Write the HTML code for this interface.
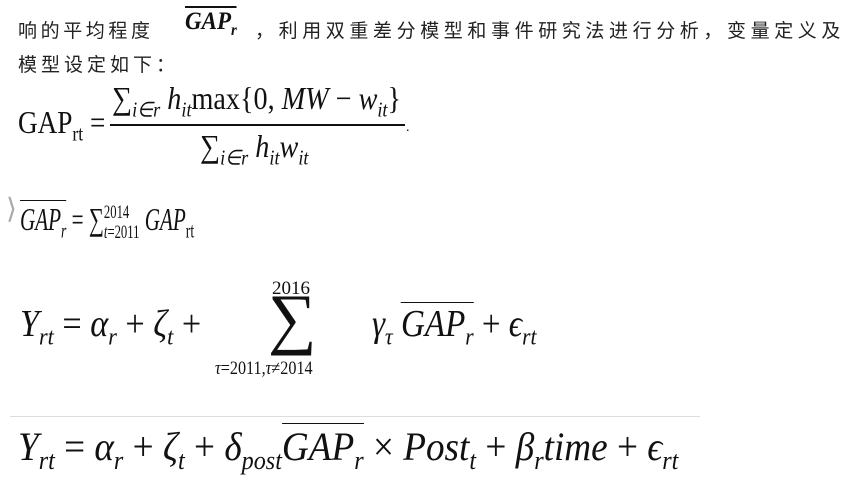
<!DOCTYPE html>
<html><head><meta charset="utf-8"><style>
body{margin:0;width:865px;height:481px;background:#fff;overflow:hidden;position:relative;font-family:"Liberation Serif",serif;color:#111}
.a{position:absolute;white-space:nowrap;transform-origin:0 50%}
.cn{font-family:"Liberation Sans","Noto Sans CJK SC",sans-serif;font-size:19px;letter-spacing:3.6px;color:#222}
i{font-style:italic}
sub,sup{font-size:65%}
</style></head><body>
<div class="a cn" style="left:18px;top:16px">响的平均程度</div>
<div class="a" style="left:185px;top:8px;font-size:25px;font-weight:bold;transform:scaleX(.92)"><i style="border-top:2px solid #111">GAP<sub>r</sub></i></div>
<div class="a cn" style="left:255px;top:16px;letter-spacing:4.6px">，利用双重差分模型和事件研究法进行分析，变量定义及</div>
<div class="a cn" style="left:18px;top:50px;letter-spacing:4px">模型设定如下：</div>

<div class="a" style="left:18px;top:104px;font-size:32px;transform:scaleX(.85)">GAP<sub>rt</sub> =</div>
<div class="a" style="left:112px;top:80px;font-size:32px;transform:scaleX(.88)">∑<sub><i>i∈r</i></sub> <i>h<sub>it</sub></i>max{0, <i>MW</i> − <i>w<sub>it</sub></i>}</div>
<div class="a" style="left:110px;top:124px;width:295px;height:2px;background:#111"></div>
<div class="a" style="left:406px;top:120px;font-size:14px">.</div>
<div class="a" style="left:200px;top:128px;font-size:32px;transform:scaleX(.88)">∑<sub><i>i∈r</i></sub> <i>h<sub>it</sub>w<sub>it</sub></i></div>

<div class="a" style="left:6px;top:192px;font-size:28px;color:#aaa">⟩</div>
<div class="a" style="left:20px;top:201px;font-size:32px;transform:scaleX(.66)"><i style="border-top:1.5px solid #111">GAP<sub>r</sub></i> = ∑<span style="display:inline-block;vertical-align:middle;font-size:60%;line-height:1;text-align:left"><span style="display:block">2014</span><span style="display:block"><i>t</i>=2011</span></span> <i>GAP</i><sub>rt</sub></div>

<div class="a" style="left:20px;top:302px;font-size:38px;transform:scaleX(.9)"><i>Y<sub>rt</sub></i> = <i>α<sub>r</sub></i> + <i>ζ<sub>t</sub></i> +</div>
<div class="a" style="left:272px;top:278px;font-size:19px">2016</div>
<div class="a" style="left:268px;top:284px;font-size:68px;line-height:1">∑</div>
<div class="a" style="left:215px;top:358px;font-size:19px;transform:scaleX(.85)"><i>τ</i>=2011,<i>τ</i>≠2014</div>
<div class="a" style="left:372px;top:302px;font-size:38px;transform:scaleX(.87)"><i>γ<sub>τ</sub></i> <i style="border-top:1.5px solid #111">GAP<sub>r</sub></i> + <i>ϵ<sub>rt</sub></i></div>

<div class="a" style="left:10px;top:416px;width:690px;height:1px;background:#ddd"></div>
<div class="a" style="left:18px;top:423px;font-size:40px;transform:scaleX(.93)"><i>Y<sub>rt</sub></i> = <i>α<sub>r</sub></i> + <i>ζ<sub>t</sub></i> + <i>δ<sub>post</sub></i><i style="border-top:1.5px solid #111">GAP<sub>r</sub></i> × <i>Post<sub>t</sub></i> + <i>β<sub>r</sub>time</i> + <i>ϵ<sub>rt</sub></i></div>
</body></html>
